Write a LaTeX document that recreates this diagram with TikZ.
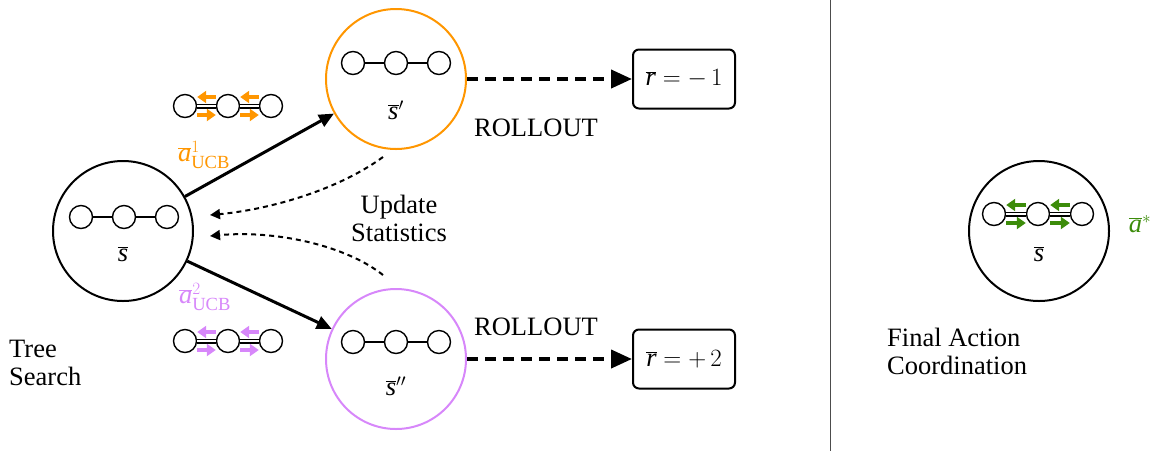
\documentclass[tikz,border=0pt]{standalone}
\usepackage{fontspec}
\setmainfont{Liberation Serif}
\usetikzlibrary{arrows.meta,calc}
\definecolor{ucbor}{RGB}{255,150,0}
\definecolor{ucbpk}{RGB}{215,135,250}
\definecolor{ucbgr}{RGB}{60,140,10}
\newcommand{\agentchain}[5]{% name, cx, cy, spacing, link style
  \node[agent] (#1a) at (#2-#4,#3) {};
  \node[agent] (#1b) at (#2,#3) {};
  \node[agent] (#1c) at (#2+#4,#3) {};
  \draw[#5] (#1a) -- (#1b);
  \draw[#5] (#1b) -- (#1c);}
\newcommand{\actarrows}[2]{% name, colour
  \draw[smallarr,#2] ($(#1b.west)+(0,-9)$) -- ($(#1a.east)+(0,-9)$);
  \draw[smallarr,#2] ($(#1a.east)+(0,9)$) -- ($(#1b.west)+(0,9)$);
  \draw[smallarr,#2] ($(#1c.west)+(0,-9)$) -- ($(#1b.east)+(0,-9)$);
  \draw[smallarr,#2] ($(#1b.east)+(0,9)$) -- ($(#1c.west)+(0,9)$);}
\begin{document}
\begin{tikzpicture}[x=1pt,y=-1pt,
  font=\fontsize{26.5}{28}\selectfont,
  state/.style={circle,draw,line width=2pt,minimum size=140pt,inner sep=0pt},
  agent/.style={circle,draw,line width=1.4pt,minimum size=23pt,inner sep=0pt},
  single/.style={line width=1.4pt},
  doublelink/.style={double,double distance=2.6pt,line width=1.2pt},
  rbox/.style={draw,rounded corners=6pt,line width=2pt,minimum width=102pt,minimum height=59pt,inner sep=0pt},
  smallarr/.style={line width=3.5pt,-{Triangle[length=9pt,width=12pt]}},
  mainarr/.style={line width=3pt,-{Triangle[length=15pt,width=13pt]}},
  rollarr/.style={line width=4pt,dash pattern=on 11pt off 7pt,-{Triangle[length=21pt,width=18pt]}},
  updarr/.style={line width=2pt,dash pattern=on 5pt off 4pt,-{Triangle[length=10pt,width=10pt]}},
  lbl/.style={inner sep=0pt}]
\useasboundingbox (0,0) rectangle (1154,451);

% states
\node[state] (s) at (123,231) {};
\node[state,draw=ucbor] (sp) at (396,79) {};
\node[state,draw=ucbpk] (spp) at (396,359) {};
\node[state] (sf) at (1039,231) {};

% chains inside states
\agentchain{cs}{124}{217}{43}{single}
\agentchain{csp}{396}{63}{43}{single}
\agentchain{cspp}{396}{342}{43}{single}
\agentchain{cf}{1038}{214}{44}{doublelink}
\actarrows{cf}{ucbgr}

\node[lbl] (ls) at (123,254) {$\overline{\textit{s}}$};
\node[lbl] (lsp) at (396,110) {$\overline{\textit{s}}'$};
\node[lbl] (lspp) at (396,386) {$\overline{\textit{s}}''$};
\node[lbl] (lsf) at (1039,254) {$\overline{\textit{s}}$};

% action chains outside
\agentchain{ao}{228}{106}{43}{doublelink}
\actarrows{ao}{ucbor}
\agentchain{ap}{228}{341}{43}{doublelink}
\actarrows{ap}{ucbpk}

\node[lbl,text=ucbor] (l1) at (204,155) {$\overline{\textit{a}}^{1}_{\mathrm{UCB}}$};
\node[lbl,text=ucbpk] (l2) at (205,297) {$\overline{\textit{a}}^{2}_{\mathrm{UCB}}$};
\node[lbl,text=ucbgr] (lstar) at (1140,224) {$\overline{\textit{a}}^{*}$};

% result boxes
\node[rbox] (r1) at (684,79) {$\overline{\textit{r}} = -\,1$};
\node[rbox] (r2) at (684,359) {$\overline{\textit{r}} = +\,2$};

% arrows
\draw[mainarr] (s) -- (sp);
\draw[mainarr] (s) -- (spp);
\draw[rollarr] (sp) -- (r1);
\draw[rollarr] (spp) -- (r2);

\coordinate (u1s) at (383,157);
\coordinate (u1e) at (210,215);
\coordinate (u2s) at (383,275);
\coordinate (u2e) at (210,236);
\draw[updarr] (u1s) .. controls (335,192) and (265,210) .. (u1e);
\draw[updarr] (u2s) .. controls (345,245) and (275,230) .. (u2e);

% texts
\node[lbl] (ro1) at (536,128) {ROLLOUT};
\node[lbl] (ro2) at (536,327) {ROLLOUT};
\node[lbl,align=center] (us) at (399,218) {Update\\Statistics};
\node[lbl,align=left,anchor=west] (ts) at (9,363) {Tree\\Search};
\node[lbl,align=left,anchor=west] (fa) at (887,351) {Final Action\\Coordination};

% separator
\coordinate (vt) at (830,0);
\coordinate (vb) at (830,451);
\draw[line width=1pt,black!70] (vt) -- (vb);
\end{tikzpicture}
\end{document}
